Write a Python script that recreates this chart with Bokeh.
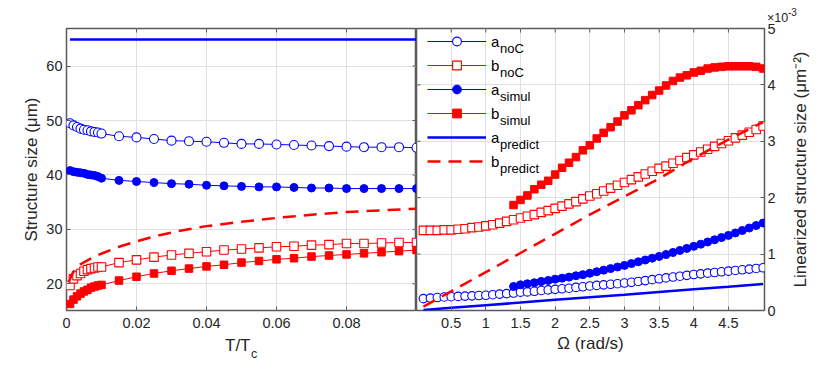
import math
from bokeh.plotting import figure
from bokeh.layouts import row
from bokeh.models import Range1d, FixedTicker, Legend, LegendItem, Label
from bokeh.core.properties import value
from bokeh.embed import file_html
from bokeh.resources import INLINE

# ---------------- Left panel data (T/Tc vs structure size, um) ----------------
T_L = [0.001, 0.002, 0.003, 0.004, 0.005, 0.006, 0.007, 0.008, 0.009, 0.010,
       0.015, 0.020, 0.025, 0.030, 0.035, 0.040, 0.045, 0.050, 0.055, 0.060,
       0.065, 0.070, 0.075, 0.080, 0.085, 0.090, 0.095, 0.100]
a_noC_L = [49.5, 49.1, 48.8, 48.5, 48.3, 48.2, 48.0, 47.9, 47.8, 47.6,
           47.1, 46.9, 46.6, 46.3, 46.2, 46.1, 45.9, 45.7, 45.7, 45.6,
           45.5, 45.4, 45.3, 45.2, 45.1, 45.1, 45.1, 45.0]
b_noC_L = [19.7, 20.9, 21.5, 21.9, 22.3, 22.6, 22.8, 22.9, 23.1, 23.1,
           23.9, 24.4, 24.9, 25.3, 25.6, 25.9, 26.2, 26.4, 26.6, 26.8,
           26.9, 27.1, 27.2, 27.4, 27.4, 27.5, 27.6, 27.6]
a_simul_L = [40.8, 40.6, 40.5, 40.4, 40.3, 40.1, 40.0, 39.9, 39.7, 39.4,
             39.0, 38.8, 38.6, 38.4, 38.3, 38.1, 38.0, 37.9, 37.8, 37.8,
             37.7, 37.6, 37.6, 37.5, 37.5, 37.5, 37.5, 37.5]
b_simul_L = [16.3, 17.1, 17.7, 18.2, 18.6, 18.9, 19.3, 19.5, 19.7, 19.8,
             20.6, 21.3, 21.9, 22.4, 22.8, 23.2, 23.5, 23.9, 24.2, 24.5,
             24.7, 25.0, 25.2, 25.4, 25.6, 25.8, 26.0, 26.2]
T_pred_a = [0.001, 0.1]
a_pred_L = [64.9, 64.9]
T_pred_b = [0.0007, 0.0015, 0.0026, 0.004, 0.006, 0.008, 0.011, 0.015, 0.02, 0.025,
            0.032, 0.04, 0.05, 0.06, 0.07, 0.08, 0.09, 0.1]
b_pred_L = [20.3, 21.7, 22.8, 23.6, 24.3, 25.0, 25.8, 26.8, 27.8, 28.7,
            29.7, 30.6, 31.4, 32.1, 32.7, 33.2, 33.5, 33.8]

# ---------------- Right panel data (Omega vs linearized size, x1e-3 um^-2) ----------------
W = [0.1, 0.2, 0.3, 0.4, 0.5, 0.6, 0.7, 0.8, 0.9, 1.0,
     1.1, 1.2, 1.3, 1.4, 1.5, 1.6, 1.7, 1.8, 1.9, 2.0,
     2.1, 2.2, 2.3, 2.4, 2.5, 2.6, 2.7, 2.8, 2.9, 3.0,
     3.1, 3.2, 3.3, 3.4, 3.5, 3.6, 3.7, 3.8, 3.9, 4.0,
     4.1, 4.2, 4.3, 4.4, 4.5, 4.6, 4.7, 4.8, 4.9, 5.0]
a_noC_R = [0.21, 0.22, 0.23, 0.24, 0.245, 0.25, 0.255, 0.26, 0.265, 0.27,
           0.28, 0.29, 0.30, 0.31, 0.325, 0.33, 0.34, 0.355, 0.365, 0.375,
           0.385, 0.395, 0.41, 0.42, 0.435, 0.445, 0.455, 0.465, 0.475, 0.487,
           0.50, 0.515, 0.53, 0.547, 0.563, 0.578, 0.593, 0.608, 0.623, 0.638,
           0.65, 0.662, 0.674, 0.686, 0.698, 0.71, 0.722, 0.734, 0.746, 0.758]
b_noC_R = [1.42, 1.42, 1.42, 1.43, 1.43, 1.44, 1.45, 1.47, 1.48, 1.50,
           1.52, 1.55, 1.58, 1.61, 1.64, 1.67, 1.70, 1.74, 1.77, 1.81,
           1.85, 1.89, 1.93, 1.98, 2.03, 2.07, 2.12, 2.17, 2.22, 2.27,
           2.32, 2.37, 2.42, 2.47, 2.52, 2.56, 2.61, 2.66, 2.71, 2.76,
           2.81, 2.86, 2.91, 2.96, 3.01, 3.06, 3.11, 3.16, 3.21, 3.27]
W_simul = [1.4, 1.5, 1.6, 1.7, 1.8, 1.9, 2.0, 2.1, 2.2, 2.3,
           2.4, 2.5, 2.6, 2.7, 2.8, 2.9, 3.0, 3.1, 3.2, 3.3,
           3.4, 3.5, 3.6, 3.7, 3.8, 3.9, 4.0, 4.1, 4.2, 4.3,
           4.4, 4.5, 4.6, 4.7, 4.8, 4.9, 5.0]
a_simul_R = [0.426, 0.456, 0.474, 0.492, 0.515, 0.533, 0.556, 0.574, 0.592, 0.616,
             0.636, 0.660, 0.687, 0.715, 0.743, 0.771, 0.800, 0.832, 0.863, 0.895,
             0.927, 0.959, 0.994, 1.030, 1.065, 1.101, 1.137, 1.176, 1.215, 1.254,
             1.293, 1.332, 1.375, 1.419, 1.463, 1.507, 1.551]
b_simul_R = [1.87, 1.96, 2.04, 2.15, 2.23, 2.30, 2.41, 2.53, 2.62, 2.72,
             2.84, 2.93, 3.05, 3.15, 3.25, 3.35, 3.46, 3.55, 3.64, 3.73,
             3.82, 3.90, 3.99, 4.07, 4.13, 4.17, 4.22, 4.25, 4.29, 4.31,
             4.32, 4.33, 4.33, 4.33, 4.33, 4.32, 4.29]
W_pred = [0.1, 0.5, 1.0, 1.5, 2.0, 2.5, 3.0, 3.5, 4.0, 4.5, 5.0]
a_pred_R = [0.01, 0.05, 0.095, 0.14, 0.19, 0.235, 0.28, 0.33, 0.375, 0.42, 0.47]
b_pred_R = [0.07, 0.34, 0.68, 1.02, 1.36, 1.70, 2.02, 2.34, 2.70, 3.03, 3.34]

# ---------------- ticks ----------------
xt_L = [0.0, 0.02, 0.04, 0.06, 0.08]
xl_L = ["0", "0.02", "0.04", "0.06", "0.08"]
yt_L = [20, 30, 40, 50, 60]
yl_L = ["20", "30", "40", "50", "60"]
xt_R = [0.5, 1.0, 1.5, 2.0, 2.5, 3.0, 3.5, 4.0, 4.5]
xl_R = ["0.5", "1", "1.5", "2", "2.5", "3", "3.5", "4", "4.5"]
yt_R = [0, 1, 2, 3, 4, 5]
yl_R = ["0", "1", "2", "3", "4", "5"]

legend_main = ["a", "b", "a", "b", "a", "b"]
legend_sub = ["noC", "noC", "simul", "simul", "predict", "predict"]

FONT = "Liberation Sans"
BLUE = "#0000ff"
RED = "#ff0000"
AXC = "#5a5a5a"
TXT = "#262626"
GRID = "#e0e0e0"
LABEL_SIZE = "17px"
FW1, FW2, FH = 350, 348, 282
TICK = 4


def style_axis(ax, ticks, labels, standoff):
    ax.ticker = FixedTicker(ticks=ticks)
    ax.major_label_overrides = dict(zip(ticks, labels))
    ax.axis_line_color = None
    ax.major_tick_line_color = AXC
    ax.major_tick_line_width = 1
    ax.major_tick_in = TICK
    ax.major_tick_out = 0
    ax.minor_tick_line_color = None
    ax.major_label_text_font = FONT
    ax.major_label_text_font_size = "14.5px"
    ax.major_label_text_color = TXT
    ax.major_label_standoff = standoff
    ax.axis_label_text_font = FONT
    ax.axis_label_text_font_size = LABEL_SIZE
    ax.axis_label_text_font_style = "normal"
    ax.axis_label_text_color = TXT


def base_fig(xr, yr, fw, bl, br, yloc):
    p = figure(x_range=xr, y_range=yr, frame_width=fw, frame_height=FH,
               min_border_left=bl, min_border_right=br, min_border_top=28,
               min_border_bottom=72, y_axis_location=yloc,
               output_backend="svg", toolbar_location=None)
    p.outline_line_color = AXC
    p.outline_line_width = 1.5
    p.background_fill_color = "white"
    p.border_fill_color = "white"
    return p


def out_text(p, x, y, txt, dx, dy, size, align="left", angle=0.0):
    p.text(x=[x], y=[y], text=[txt], x_offset=dx, y_offset=dy, angle=angle,
           text_font=value(FONT), text_font_size=value(size), text_align=align,
           text_baseline="middle", text_color=TXT, level="overlay")


def mirror_ticks(p, xr, yr, fw, xticks, yticks, yside):
    dy = TICK * (yr.end - yr.start) / FH
    dx = TICK * (xr.end - xr.start) / fw
    p.segment(x0=xticks, y0=[yr.end] * len(xticks), x1=xticks,
              y1=[yr.end - dy] * len(xticks), line_color=AXC, line_width=1)
    if yside == "right":
        xe, xi = xr.end, xr.end - dx
    else:
        xe, xi = xr.start, xr.start + dx
    p.segment(x0=[xe] * len(yticks), y0=yticks, x1=[xi] * len(yticks), y1=yticks,
              line_color=AXC, line_width=1)


# ---------------- Left figure ----------------
xr1 = Range1d(0, 0.1)
yr1 = Range1d(15.1, 66.9)
p1 = base_fig(xr1, yr1, FW1, 66, 0, "left")
style_axis(p1.xaxis[0], xt_L, xl_L, 7)
style_axis(p1.yaxis[0], yt_L, yl_L, 4)
p1.yaxis[0].axis_label = "Structure size (\u03bcm)"
p1.yaxis[0].axis_label_standoff = 2
p1.xgrid.ticker = FixedTicker(ticks=xt_L)
p1.ygrid.ticker = FixedTicker(ticks=yt_L)
for g in (p1.xgrid, p1.ygrid):
    g.grid_line_color = GRID
    g.grid_line_width = 1

p1.line(T_L, a_noC_L, line_color=BLUE, line_width=1)
p1.scatter(T_L, a_noC_L, marker="circle", size=9, line_color=BLUE, fill_color="white", line_width=1.1)
p1.line(T_L, b_noC_L, line_color=RED, line_width=1)
p1.scatter(T_L, b_noC_L, marker="square", size=8.5, line_color=RED, fill_color="white", line_width=1.1)
p1.line(T_L, a_simul_L, line_color=BLUE, line_width=1)
p1.scatter(T_L, a_simul_L, marker="circle", size=8, line_color=BLUE, fill_color=BLUE, line_width=1)
p1.line(T_L, b_simul_L, line_color=RED, line_width=1)
p1.scatter(T_L, b_simul_L, marker="square", size=7.5, line_color=RED, fill_color=RED, line_width=1)
p1.line(T_pred_a, a_pred_L, line_color=BLUE, line_width=2.5)
p1.line(T_pred_b, b_pred_L, line_color=RED, line_width=2.5, line_dash="13 8")
mirror_ticks(p1, xr1, yr1, FW1, xt_L, yt_L, "right")

out_text(p1, xr1.start, yr1.start, "T/T", 184, 35, LABEL_SIZE, align="right")
out_text(p1, xr1.start, yr1.start, "c", 184.5, 43, "12.5px", align="left")

# ---------------- Right figure ----------------
xr2 = Range1d(0, 5.02)
yr2 = Range1d(0, 5)
p2 = base_fig(xr2, yr2, FW2, 0, 58, "right")
style_axis(p2.xaxis[0], xt_R, xl_R, 7)
style_axis(p2.yaxis[0], yt_R, yl_R, 3)
p2.xaxis[0].axis_label = "\u03a9 (rad/s)"
p2.xaxis[0].axis_label_standoff = 3
p2.xgrid.ticker = FixedTicker(ticks=xt_R)
p2.ygrid.ticker = FixedTicker(ticks=yt_R)
for g in (p2.xgrid, p2.ygrid):
    g.grid_line_color = GRID
    g.grid_line_width = 1

r_l1 = p2.line(W, a_noC_R, line_color=BLUE, line_width=1)
r_s1 = p2.scatter(W, a_noC_R, marker="circle", size=8.5, line_color=BLUE, fill_color="white", line_width=1.1)
r_l2 = p2.line(W, b_noC_R, line_color=RED, line_width=1)
r_s2 = p2.scatter(W, b_noC_R, marker="square", size=8.5, line_color=RED, fill_color="white", line_width=1.1)
r_l3 = p2.line(W_simul, a_simul_R, line_color=BLUE, line_width=1)
r_s3 = p2.scatter(W_simul, a_simul_R, marker="circle", size=8, line_color=BLUE, fill_color=BLUE, line_width=1)
r_l4 = p2.line(W_simul, b_simul_R, line_color=RED, line_width=1)
r_s4 = p2.scatter(W_simul, b_simul_R, marker="square", size=7.5, line_color=RED, fill_color=RED, line_width=1)
r_l5 = p2.line(W_pred, a_pred_R, line_color=BLUE, line_width=2.5)
r_l6 = p2.line(W_pred, b_pred_R, line_color=RED, line_width=2.5, line_dash="13 8")
mirror_ticks(p2, xr2, yr2, FW2, xt_R, yt_R, "left")

groups = [[r_l1, r_s1], [r_l2, r_s2], [r_l3, r_s3], [r_l4, r_s4], [r_l5], [r_l6]]
items = [LegendItem(label=legend_main[i], renderers=groups[i]) for i in range(6)]
legend = Legend(items=items, location=(11, 138), glyph_width=59, glyph_height=22,
                label_height=22, spacing=2, padding=0, margin=0, label_standoff=5,
                border_line_alpha=0, background_fill_alpha=0,
                label_text_font=FONT, label_text_font_size="15px", label_text_color="#000000")
p2.add_layout(legend)
for i, sub in enumerate(legend_sub):
    p2.add_layout(Label(x=xr2.start, y=yr2.end, x_offset=83.5, y_offset=-(19.7 + 24 * i),
                        text=sub, text_align="left", text_baseline="middle", text_font=FONT,
                        text_font_size="13px", text_color="#000000"))

out_text(p2, xr2.end, (yr2.start + yr2.end) / 2, "Linearized structure size (\u03bcm\u207b\u00b2)",
         36, 0, LABEL_SIZE, align="center", angle=math.pi / 2)
out_text(p2, xr2.end, yr2.end, "\u00d710", 2.5, -10.5, "12.5px")
out_text(p2, xr2.end, yr2.end, "-3", 23.5, -16.5, "10px")

layout = row(p1, p2)
open("out.html", "w").write(file_html(layout, INLINE))
